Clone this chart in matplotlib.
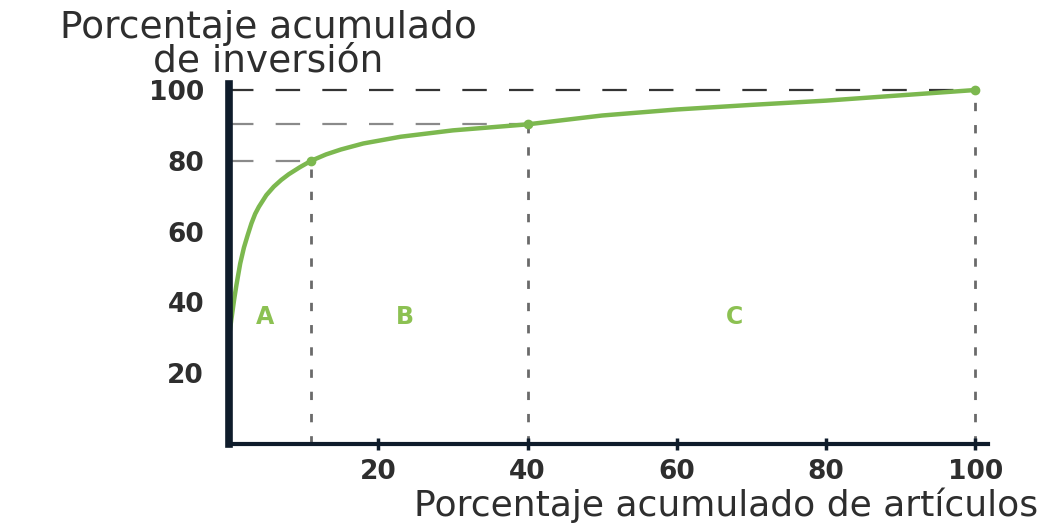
"""Curva ABC: porcentaje acumulado de inversión vs. artículos."""
import matplotlib.pyplot as plt

# ---- data ----
pct_articulos = [0, 0.3, 0.7, 1, 1.5, 2, 2.5, 3, 3.5, 4, 5, 6, 7, 8, 9.5,
                 11, 13, 15, 18, 23, 30, 40, 50, 60, 70, 80, 90, 100]
pct_inversion = [30, 35, 41, 45, 51, 55.5, 59, 62.3, 65, 67, 70.3, 72.7,
                 74.6, 76.2, 78.2, 80, 81.8, 83.2, 84.9, 86.8, 88.6, 90.3,
                 92.8, 94.5, 95.8, 97, 98.5, 100]

corte_x = [11, 40, 100]      # limits of zones A, B, C
corte_y = [80, 90.3, 100]
zonas = ['A', 'B', 'C']
zona_x = [4.8, 23.6, 67.8]
zona_y = 36

x_ticks = [20, 40, 60, 80, 100]
y_ticks = [20, 40, 60, 80, 100]

GREEN = '#7cb84f'
TEXT = '#2e2e2e'
AXIS = '#0f1c2b'


def main():
    plt.rcParams['font.family'] = ['DejaVu Sans']
    fig = plt.figure(figsize=(10.41, 5.25), dpi=100)
    ax = fig.add_axes([0.22, 0.1543, 0.729, 0.6857])

    # dashed guide lines
    for i, (cx, cy) in enumerate(zip(corte_x, corte_y)):
        hcol = '#333333' if i == len(corte_x) - 1 else '#8a8a8a'
        ax.plot([0, cx], [cy, cy], color=hcol, lw=1.6, dashes=[11, 10], zorder=1)
        ax.plot([cx, cx], [0, cy], color='#6a6a6a', lw=2.0, dashes=[3, 5], zorder=1)

    # curve
    ax.plot(pct_articulos, pct_inversion, color=GREEN, lw=3.2, zorder=3,
            solid_capstyle='round', solid_joinstyle='round')
    ax.plot(corte_x, corte_y, 'o', color=GREEN, ms=6, zorder=4)

    for z, zx in zip(zonas, zona_x):
        ax.text(zx, zona_y, z, color='#8cc152', fontsize=17, fontweight='bold',
                ha='center', va='center')

    ax.set_xlim(0, 101.7)
    ax.set_ylim(0, 101.7)

    for s in ['top', 'right']:
        ax.spines[s].set_visible(False)
    ax.spines['left'].set_linewidth(5.5)
    ax.spines['left'].set_color(AXIS)
    ax.spines['left'].set_zorder(5)
    ax.spines['bottom'].set_linewidth(3)
    ax.spines['bottom'].set_color(AXIS)
    ax.spines['bottom'].set_zorder(5)

    ax.set_xticks(x_ticks)
    ax.set_xticklabels([str(t) for t in x_ticks])
    ax.set_yticks(y_ticks)
    ax.set_yticklabels([str(t) for t in y_ticks])
    ax.tick_params(axis='x', direction='inout', length=9, width=2.5,
                   color=AXIS, labelsize=19, labelcolor=TEXT, pad=6)
    ax.tick_params(axis='y', length=0, labelsize=19, labelcolor=TEXT, pad=18)
    for lbl in ax.get_xticklabels() + ax.get_yticklabels():
        lbl.set_fontweight('bold')

    fig.text(268 / 1041, 1 - 28 / 525, 'Porcentaje acumulado',
             ha='center', va='center', fontsize=27, color=TEXT)
    fig.text(268 / 1041, 1 - 62 / 525, 'de inversión',
             ha='center', va='center', fontsize=27, color=TEXT)
    fig.text(1038 / 1041, 1 - 505 / 525, 'Porcentaje acumulado de artículos',
             ha='right', va='center', fontsize=26, color=TEXT)

    fig.savefig('out.png', dpi=100)
    plt.close(fig)


if __name__ == "__main__":
    main()
